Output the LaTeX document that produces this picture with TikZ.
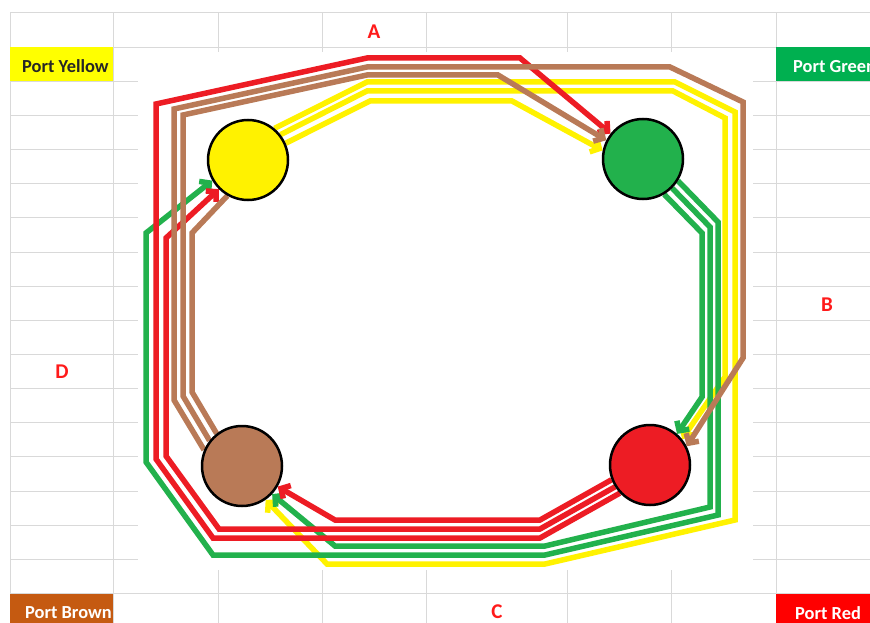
\documentclass[tikz,border=0pt]{standalone}
\usepackage{fontspec}
\setmainfont{Carlito}
\usetikzlibrary{arrows.meta}
\definecolor{cYel}{HTML}{FFF200}
\definecolor{cGrn}{HTML}{22B14C}
\definecolor{cBrn}{HTML}{B97A57}
\definecolor{cRed}{HTML}{ED1C24}
\definecolor{pYel}{HTML}{FFFF00}
\definecolor{pGrn}{HTML}{00B050}
\definecolor{pBrn}{HTML}{C55A11}
\definecolor{pRed}{HTML}{FF0000}
\definecolor{gridc}{HTML}{D9D9D9}
\definecolor{lblred}{HTML}{FF1A1A}
\pgfdeclarelayer{bg}
\pgfdeclarelayer{ln}
\pgfsetlayers{bg,ln,main}
\begin{document}
\begin{tikzpicture}[x=1pt,y=-1pt,
  port/.style={circle,draw=black,line width=2.5pt,minimum size=80pt,inner sep=0pt},
  wire/.style={line width=5.5pt},
  arrowed/.style={-{Straight Barb[length=7pt,width=15pt]}},
  gridline/.style={draw=gridc,line width=1pt},
  lbl/.style={text=lblred,font=\bfseries\fontsize{21}{21}\selectfont,inner sep=0pt},
  plbl/.style={anchor=west,font=\bfseries\fontsize{18.4}{18.4}\selectfont,inner sep=0pt}
]
\useasboundingbox (0,0) rectangle (870,623);

% circles (ports)
\node[port,fill=cYel] (yc) at (248,160) {};
\node[port,fill=cGrn] (gc) at (643,159) {};
\node[port,fill=cBrn] (bc) at (242,466) {};
\node[port,fill=cRed] (rc) at (650,465) {};

% labels
\node[lbl] (la) at (374,32) {A};
\node[lbl] (lb) at (827,305) {B};
\node[lbl] (lc) at (497,612) {C};
\node[lbl] (ld) at (62,372) {D};

\node[plbl,text=black!85] (tpy) at (22,66) {Port Yellow};
\node[plbl,text=white] (tpg) at (793,67) {Port Green};
\node[plbl,text=white] (tpb) at (25,613) {Port Brown};
\node[plbl,text=white] (tpr) at (795,613) {Port Red};

\begin{pgfonlayer}{bg}
\fill[white] (0,0) rectangle (870,623);
\foreach \k in {0,...,17} \draw[gridline] (10,{13+34.15*\k}) -- (870,{13+34.15*\k});
\foreach \x in {10,113,218,322,426,567,671,776} \draw[gridline] (\x,13) -- (\x,623);
\fill[white] (138,52) rectangle (753,570);
\fill[pYel] (10,47) rectangle (113,81);
\fill[pGrn] (776,47) rectangle (870,81);
\fill[pBrn] (10,593.5) rectangle (113,623);
\fill[pRed] (776,593.5) rectangle (870,623);
\end{pgfonlayer}

\begin{pgfonlayer}{ln}
% yellow
\draw[wire,cYel,arrowed] (yc.24) -- (370,101) -- (512,101) -- (gc.168);
\draw[wire,cYel,arrowed] (yc.38) -- (367,91) -- (673,91) -- (725,118) -- (725,377) -- (rc.39);
\draw[wire,cYel,arrowed] (yc.50) -- (367,82) -- (675,82) -- (735,112) -- (735,520) -- (545,564) -- (327,564) -- (bc.-55);
% green
\draw[wire,cGrn,arrowed] (gc.-59) -- (702,233) -- (702,397) -- (rc.49);
\draw[wire,cGrn,arrowed] (gc.-45) -- (710,227) -- (710,507) -- (545,546) -- (335,546) -- (bc.-43);
\draw[wire,cGrn,arrowed] (gc.-32) -- (718,222) -- (718,515) -- (545,555) -- (213,555) -- (146,462) -- (146,233) -- (yc.210);
% red
\draw[wire,cRed,arrowed] (rc.201) -- (540,520) -- (335,520) -- (bc.-30);
\draw[wire,cRed,arrowed] (rc.212) -- (540,529) -- (219,529) -- (166,456) -- (166,238) -- (yc.225);
\draw[wire,cRed,arrowed] (rc.223) -- (540,538) -- (213,538) -- (156,459) -- (156,104) -- (367,58) -- (520,58) -- (gc.142);
% brown
\draw[wire,cBrn] (bc.128) -- (192,392) -- (192,233) -- (yc.240);
\draw[wire,cBrn,arrowed] (bc.142) -- (183,396) -- (183,115) -- (367,75) -- (498,75) -- (gc.153);
\draw[wire,cBrn,arrowed] (bc.157) -- (174,400) -- (174,109) -- (367,67) -- (670,67) -- (743,102) -- (743,358) -- (rc.27);
\end{pgfonlayer}
\end{tikzpicture}
\end{document}
